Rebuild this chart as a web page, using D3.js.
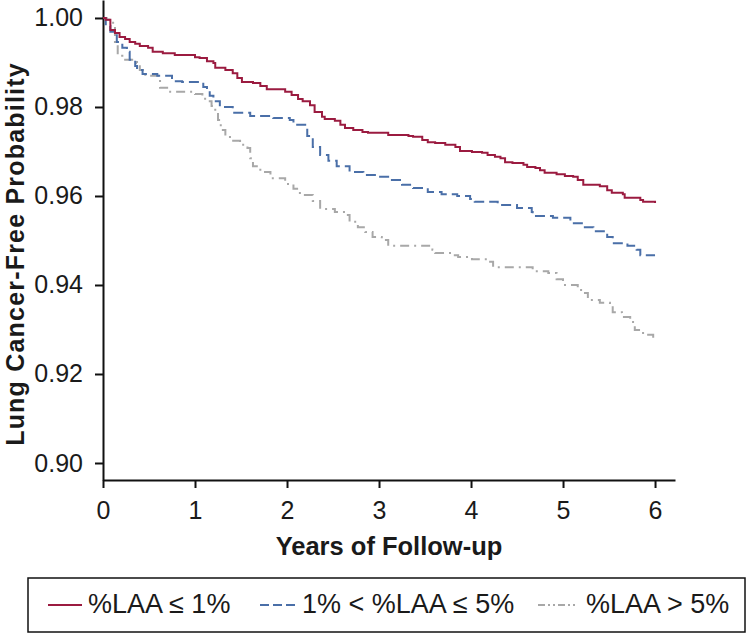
<!DOCTYPE html>
<html>
<head>
<meta charset="utf-8">
<script src="https://cdn.jsdelivr.net/npm/d3@7"></script>
<style>
body{margin:0;background:#fff}
svg{display:block;font-family:"Liberation Sans",Arial,sans-serif}
</style>
</head>
<body>
<div id="chart"></div>
<script>
'use strict'
// step points (years, survival)
let lowT=[0,0.03,0.08,0.13,0.18,0.24,0.29,0.35,0.40,0.49,0.54,0.65,0.78,1.00,1.05,1.13,1.20,1.22,1.33,1.41,1.46,1.51,1.63,1.71,1.78,1.98,2.05,2.12,2.17,2.25,2.30,2.38,2.41,2.52,2.58,2.63,2.72,2.82,2.88,3.10,3.32,3.37,3.47,3.53,3.61,3.72,3.83,3.88,4.01,4.12,4.18,4.26,4.32,4.37,4.45,4.57,4.61,4.70,4.75,4.80,4.93,5.02,5.11,5.16,5.22,5.40,5.48,5.53,5.65,5.67,5.84,5.87,6.00]
let lowS=[1,0.9996,0.9973,0.9966,0.9957,0.9953,0.9946,0.9942,0.9937,0.9933,0.9924,0.9921,0.9917,0.9912,0.9910,0.9903,0.9899,0.9888,0.9883,0.9876,0.9865,0.9856,0.9854,0.9847,0.9840,0.9834,0.9827,0.9818,0.9813,0.9804,0.9789,0.9778,0.9773,0.9769,0.9760,0.9753,0.9748,0.9744,0.9742,0.9737,0.9735,0.9733,0.9726,0.9721,0.9719,0.9715,0.9710,0.9701,0.9699,0.9697,0.9692,0.9688,0.9685,0.9676,0.9674,0.9670,0.9665,0.9663,0.9658,0.9652,0.9649,0.9645,0.9643,0.9636,0.9625,0.9622,0.9613,0.9607,0.9604,0.9596,0.9591,0.9587,0.9584]
let midT=[0,0.03,0.08,0.15,0.21,0.26,0.29,0.35,0.37,0.43,0.59,0.75,0.86,1.09,1.13,1.16,1.20,1.27,1.41,1.60,1.85,2.03,2.07,2.22,2.28,2.36,2.45,2.54,2.68,2.83,2.99,3.14,3.25,3.37,3.53,3.68,3.85,3.99,4.04,4.29,4.50,4.66,4.67,4.89,5.08,5.22,5.33,5.48,5.54,5.70,5.80,5.84,6.00]
let midS=[1,0.9982,0.9969,0.9946,0.9933,0.9924,0.9906,0.9892,0.9883,0.9874,0.9870,0.9858,0.9856,0.9845,0.9836,0.9825,0.9813,0.9800,0.9787,0.9780,0.9775,0.9771,0.9760,0.9735,0.9710,0.9692,0.9679,0.9667,0.9654,0.9647,0.9643,0.9636,0.9625,0.9618,0.9609,0.9604,0.9600,0.9593,0.9587,0.9580,0.9573,0.9564,0.9555,0.9551,0.9539,0.9530,0.9521,0.9508,0.9494,0.9488,0.9479,0.9467,0.9467]
let highT=[0,0.04,0.11,0.13,0.16,0.21,0.37,0.40,0.46,0.60,0.62,0.73,1.00,1.08,1.11,1.18,1.22,1.25,1.28,1.33,1.38,1.49,1.57,1.60,1.63,1.71,1.82,1.98,2.07,2.14,2.28,2.36,2.52,2.63,2.68,2.77,2.85,2.93,3.03,3.10,3.58,3.61,3.79,3.86,4.01,4.18,4.24,4.67,4.84,4.93,5.00,5.16,5.22,5.27,5.40,5.51,5.54,5.64,5.73,5.78,5.87,5.98,6.00]
let highS=[1,0.9996,0.9984,0.9939,0.9915,0.9906,0.9899,0.9883,0.9870,0.9867,0.9843,0.9834,0.9829,0.9822,0.9813,0.9802,0.9787,0.9771,0.9748,0.9735,0.9724,0.9715,0.9708,0.9685,0.9667,0.9654,0.9640,0.9627,0.9616,0.9602,0.9589,0.9571,0.9564,0.9557,0.9542,0.9530,0.9519,0.9508,0.9501,0.9488,0.9479,0.9472,0.9467,0.9463,0.9458,0.9452,0.9440,0.9431,0.9427,0.9413,0.9400,0.9389,0.9382,0.9366,0.9360,0.9355,0.9339,0.9328,0.9317,0.9299,0.9288,0.9281,0.9281]
let xTicks=[0,1,2,3,4,5,6]
let yTicks=[0.90,0.92,0.94,0.96,0.98,1.00]
let seriesNames=['%LAA \u2264 1%','1% < %LAA \u2264 5%','%LAA > 5%']

let width=751
let height=634
let x0=103
let y0=0
let plotW=572
let plotH=480
let colors=['#9b1b40','#4a6fa8','#a8a8a8']
let dashes=[null,'10,5','9,5,2,5']

function toPoints(ts,ss){let pts=[]
for(let i=0;i<ts.length;++i)pts.push([ts[i],ss[i]])
return pts}

function paint(nameDiv){let svg=d3.select('#'+nameDiv).append('svg').attr('width',width).attr('height',height)
let xscale=d3.scaleLinear().domain([0,6.217]).range([x0,x0+plotW])
let yscale=d3.scaleLinear().domain([0.89618,1.00404]).range([y0+plotH,y0])
let x_axis=d3.axisBottom(xscale).tickValues(xTicks).tickSize(8).tickSizeOuter(0).tickPadding(13).tickFormat(d3.format('d'))
let y_axis=d3.axisLeft(yscale).tickValues(yTicks).tickSize(8).tickSizeOuter(0).tickPadding(12).tickFormat(d3.format('.2f'))
let gx=svg.append('g').attr('transform','translate(0,'+(y0+plotH)+')').call(x_axis)
let gy=svg.append('g').attr('transform','translate('+x0+',0)').call(y_axis)
for(let g of [gx,gy]){g.selectAll('path,line').attr('stroke','#111').attr('stroke-width',2)
g.selectAll('text').attr('font-size',25).attr('fill','#1a1a1a').attr('font-family','"Liberation Sans",Arial,sans-serif')}
svg.append('text').attr('x',x0+plotW/2).attr('y',555).attr('text-anchor','middle').attr('font-size',25.5).attr('font-weight','bold').attr('fill','#1a1a1a').text('Years of Follow-up')
svg.append('text').attr('text-anchor','middle').attr('transform','translate(24,254)rotate(-90)').attr('font-size',25).attr('letter-spacing',1.2).attr('font-weight','bold').attr('fill','#1a1a1a').text('Lung Cancer-Free Probability')

let line=d3.line().x(d=>xscale(d[0])).y(d=>yscale(d[1])).curve(d3.curveStepAfter)
let series=[toPoints(highT,highS),toPoints(midT,midS),toPoints(lowT,lowS)]
let order=[2,1,0]
series.forEach(function(pts,i){let k=order[i]
svg.append('path').datum(pts).attr('d',line).attr('fill','none').attr('stroke',colors[k]).attr('stroke-width',2).attr('stroke-dasharray',dashes[k])})

// legend
let lg=svg.append('g')
lg.append('rect').attr('x',28).attr('y',578).attr('width',717).attr('height',54).attr('fill','none').attr('stroke','#111').attr('stroke-width',1.5)
let lx=[48,260,538]
let lw=[34,36,39]
let tx=[88,302,586]
seriesNames.forEach(function(name,i){lg.append('line').attr('x1',lx[i]).attr('x2',lx[i]+lw[i]).attr('y1',605).attr('y2',605).attr('stroke',colors[i]).attr('stroke-width',2).attr('stroke-dasharray',dashes[i]?(i==1?'9,4':'7,3,2,3,2,3'):null)
lg.append('text').attr('x',tx[i]).attr('y',613).attr('font-size',27).attr('fill','#1a1a1a').text(name)})}

paint('chart')
</script>
</body>
</html>
